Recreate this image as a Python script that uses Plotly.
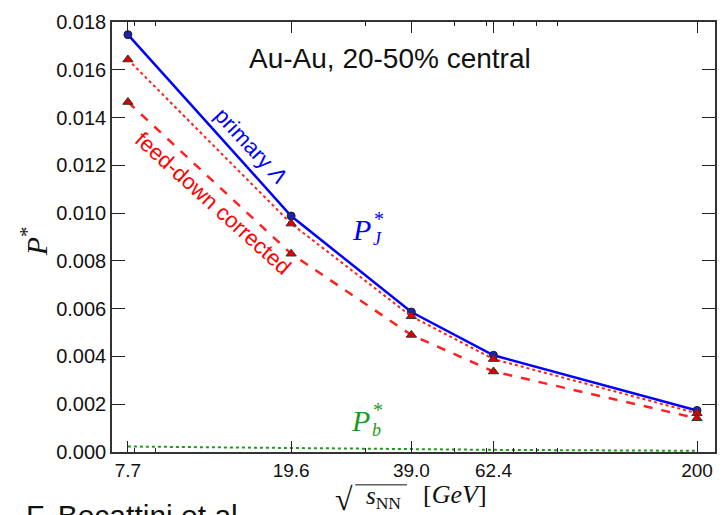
import plotly.graph_objects as go
import math

# ---- data ----
energies = [7.7, 19.6, 39.0, 62.4, 200.0]
tick_labels = ["7.7", "19.6", "39.0", "62.4", "200"]
primary = [0.01747, 0.00988, 0.00586, 0.00405, 0.00174]
fd_upper = [0.01643, 0.00956, 0.00568, 0.00389, 0.00162]
fd_corrected = [0.01465, 0.00830, 0.00490, 0.00337, 0.00141]
p_b = [0.00023, 0.00016, 0.00011, 0.00009, 0.00005]
y_ticks = [0.000, 0.002, 0.004, 0.006, 0.008, 0.010, 0.012, 0.014, 0.016, 0.018]
minor_x = [8, 9, 30, 50, 60, 70, 80, 90]

W, H = 728, 515
L, R, T, B = 112, 11, 20, 63
pw, ph = W - L - R, H - T - B


def px(x):
    return (x - L) / pw


def py(y):
    return (H - B - y) / ph


fig = go.Figure()

fig.add_trace(go.Scatter(
    x=energies, y=p_b, mode="lines",
    line=dict(color="#1f9a1f", width=2, dash="dot"), showlegend=False))

fig.add_trace(go.Scatter(
    x=energies, y=primary, mode="lines+markers",
    line=dict(color="#0000ff", width=2.5),
    marker=dict(symbol="circle", size=8, color="#1a22b0",
                line=dict(color="#222222", width=1)),
    showlegend=False))

fig.add_trace(go.Scatter(
    x=energies, y=fd_upper, mode="lines+markers",
    line=dict(color="#ff2020", width=2, dash="dot"),
    marker=dict(symbol="triangle-up", size=9, color="#e00000",
                line=dict(color="#333333", width=1)),
    showlegend=False))

fig.add_trace(go.Scatter(
    x=energies, y=fd_corrected, mode="lines+markers",
    line=dict(color="#ff2020", width=2.5, dash="dash"),
    marker=dict(symbol="triangle-up", size=9, color="#e00000",
                line=dict(color="#333333", width=1)),
    showlegend=False))

sans = "Liberation Sans, Arial, sans-serif"
serif = "Liberation Serif, DejaVu Serif, serif"

fig.update_xaxes(
    type="log",
    range=[math.log10(7.03), math.log10(221.7)],
    tickvals=energies, ticktext=tick_labels,
    ticks="inside", ticklen=11, tickwidth=1, tickcolor="#222",
    showline=True, linecolor="#333", linewidth=1.5, mirror="ticks",
    showgrid=False, zeroline=False,
    tickfont=dict(family=sans, size=19, color="#111"),
    minor=dict(tickvals=minor_x, ticks="inside", ticklen=4, tickcolor="#222", showgrid=False),
)
fig.update_yaxes(
    range=[0, 0.018],
    tickvals=y_ticks, tickformat=".3f",
    ticks="inside", ticklen=13, tickwidth=1, tickcolor="#222",
    showline=True, linecolor="#333", linewidth=1.5, mirror="ticks",
    showgrid=False, zeroline=False,
    tickfont=dict(family=sans, size=20, color="#111"),
)


def note(text, x, y, size, color, family, angle=0, xa="center", ya="middle"):
    return dict(text=text, x=px(x), y=py(y), xref="paper", yref="paper",
                xanchor=xa, yanchor=ya, showarrow=False, textangle=angle,
                font=dict(family=family, size=size, color=color))


ann = [
    note("Au-Au, 20-50% central", 391, 57, 28, "#111", sans),
    note("primary <i>Λ</i>", 251, 144, 22, "#0000ff", sans, angle=47),
    note("feed-down corrected", 214, 202, 22, "#ff0000", sans, angle=42),
    # P_J*
    note("<i>P</i>", 362, 228, 30, "#0000ff", serif),
    note("<i>J</i>", 378, 238, 18, "#0000ff", serif),
    note("*", 380, 218, 20, "#0000ff", serif),
    # P_b*
    note("<i>P</i>", 361, 420, 30, "#1f9a1f", serif),
    note("<i>b</i>", 377, 430, 18, "#1f9a1f", serif),
    note("*", 379, 410, 20, "#1f9a1f", serif),
    # y title
    note("<i>P</i><sup>*</sup>", 34, 240, 30, "#111", serif, angle=-90),
    # x title
    note("√", 345, 499, 32, "#111", serif),
    note("<i>s</i><sub>NN</sub>", 384, 498, 25, "#111", serif),
    note("[<i>GeV</i>]", 456, 495, 26, "#111", serif),
    # credit, cut off at bottom
    note("F. Becattini et al.", 24, 516, 30, "#111", sans, xa="left", ya="middle"),
]

shapes = [dict(type="line", xref="paper", yref="paper",
               x0=px(356), x1=px(408), y0=py(485), y1=py(485),
               line=dict(color="#111", width=1))]

fig.update_layout(
    width=W, height=H,
    margin=dict(l=L, r=R, t=T, b=B),
    paper_bgcolor="white", plot_bgcolor="white",
    annotations=ann, shapes=shapes, showlegend=False,
)

fig.write_html("out.html")
